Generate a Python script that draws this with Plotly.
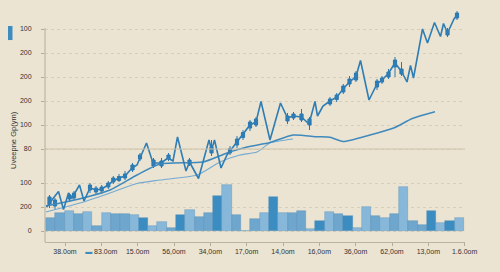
import plotly.graph_objects as go

# ---------------- data ----------------
# volume bars (weekly index)
vol_week = list(range(45))
vol_vals = [12.7, 18.3, 20.3, 17.3, 19, 5.3, 18, 17.3, 16.7, 16.3,
            13.3, 5.3, 9.3, 2.7, 16, 20.7, 14, 18.3, 35.3, 46,
            16, 0.5, 11.7, 17.7, 34.3, 17.7, 18, 20.3, 2, 10.3,
            18.7, 17.3, 15, 3, 24, 14.7, 13.3, 16.7, 44.3, 10.3,
            6, 20, 8.3, 10.3, 12.7]
vol_tone = ["m", "m", "l", "m", "l", "m", "l", "m", "m", "l",
            "d", "l", "l", "m", "d", "l", "m", "m", "d", "l",
            "m", "m", "m", "l", "d", "l", "m", "m", "l", "d",
            "l", "m", "d", "l", "l", "m", "l", "m", "l", "m",
            "m", "d", "l", "d", "l"]

# zig-zag price line (day, value)
zz_day = [1.5, 13.5, 18.5, 23.5, 27, 34.5, 39, 45, 51, 57, 63, 68, 74, 80, 87, 92,
          101.5, 108, 116, 123, 128, 132.5, 141, 144.5, 153.5, 164, 166.5, 169.5,
          176, 182, 185, 192, 198, 205, 211, 216, 225, 235.5, 242.5, 248, 256.5,
          264, 270, 272.5, 278, 285, 292, 298, 304.5, 311, 315.5, 324, 332, 337,
          343, 350, 356.5, 362, 365.5, 368.5, 377.5, 382.5, 389.5, 395.5, 398.5,
          402.5, 409, 412]
zz_val = [24, 39.5, 21.5, 38, 33, 46, 30, 43, 41, 42, 46, 50, 53, 55, 63, 66,
          88, 68, 68, 73, 70, 94, 60, 69, 52.5, 91, 81, 91,
          63, 76, 80, 89, 96, 106, 109, 129.5, 91, 128, 113, 115, 114,
          107, 129.5, 115, 125, 130, 134, 142, 149, 154.5, 170.5, 131, 147, 151,
          157, 168, 159.5, 149, 165.5, 153, 202, 188, 208.5, 194.5, 207.5,
          198, 212, 216]

# moving averages
ma1_day = [1, 38, 65, 92, 115, 158, 182, 202, 225, 248, 272, 285, 298, 325, 348, 368, 390]
ma1_val = [25, 33, 41, 56, 67, 69, 78, 84, 88.5, 96, 94.3, 93.7, 89.5, 96, 102.7, 112.7, 119.3]
ma2_day = [1, 35, 65, 92, 115, 152, 175, 195, 212, 225, 248]
ma2_val = [19, 28, 38, 47.5, 51, 56, 69, 76, 79, 88, 92]

# candles
c_day = [4.5, 10, 24.5, 29, 45, 51, 56.7, 63.3, 68.3, 74, 80, 87.5, 95, 108.5, 116.5,
         123.5, 144.5, 166.5, 185, 192, 198, 205, 211, 242.5, 248.5, 256.5, 264.5,
         285, 291.7, 298.3, 304.5, 311, 332, 337, 343.5, 350, 356.5, 402.5, 412]
c_open = [27, 31, 32, 33, 41, 43, 40, 44, 49, 50.5, 53, 61, 72, 71, 65,
          72, 71, 78, 78, 86, 93.5, 103, 106, 115, 113, 117, 112,
          127, 131.5, 139, 147, 151, 144, 149, 154, 164, 162, 196, 213]
c_close = [34, 25, 36, 38, 46, 39, 44, 48, 53, 54.5, 57, 66, 76, 65, 70,
           76, 67, 84, 82.5, 92, 98.5, 109, 112, 110, 117, 111, 106,
           132, 136, 145, 152, 158, 150, 153, 159, 171, 157, 200.5, 218]
c_high = [36, 33, 38, 40, 48, 45, 46, 50, 55, 57, 60, 68, 78, 73, 73,
          78, 73, 91, 85, 95, 101, 111, 114, 118, 119, 122, 114,
          134, 138, 147, 155, 160, 152, 155, 162, 174, 169, 203, 220]
c_low = [23, 22, 30, 31, 38, 37, 37, 42, 47, 49, 51, 59, 70, 63, 63,
         70, 65, 75, 76, 83, 91, 100, 104, 107, 111, 109, 101,
         125, 129, 137, 144, 149, 141, 147, 152, 154, 155, 194, 211]

# axis ticks
y_tickvals = [0, 24, 48, 82, 106, 130, 154, 178, 202]
y_ticktext = ["0", "200", "100", "80", "100", "200", "200", "200", "100"]
x_tickvals = [20, 56.3, 92.6, 129, 165.3, 201.6, 238, 274.3, 310.6, 347, 383.3, 419.6]
x_ticktext = ["38.0om", '<span style="color:#3d8cc0">▬</span> 83.0om', "15.0om",
              "56,0om", "34,0om", "17,0om", "14,0om", "16,0om",
              "36,0om", "62,0om", "13,0om", "1.6.0om"]
y_title = "Uveepne Gp(ym)"

# ---------------- figure ----------------
BG = "#ebe4d2"
tone_color = {"m": "#6ea6cd", "l": "#87b8da", "d": "#3b8dc1"}
FONT = "Liberation Sans, Arial, sans-serif"

fig = go.Figure()

fig.add_trace(go.Bar(
    x=vol_week, y=vol_vals, xaxis="x2", yaxis="y",
    marker=dict(color=[tone_color[t] for t in vol_tone],
                line=dict(color="rgba(70,130,180,0.55)", width=0.6)),
    width=1.0, hoverinfo="skip"))

fig.add_trace(go.Scatter(x=ma2_day, y=ma2_val, mode="lines",
                         line=dict(color="#74aad2", width=1.1, shape="spline", smoothing=0.6)))
fig.add_trace(go.Scatter(x=ma1_day, y=ma1_val, mode="lines",
                         line=dict(color="#3f89bd", width=1.5, shape="spline", smoothing=0.6)))
fig.add_trace(go.Scatter(x=zz_day, y=zz_val, mode="lines",
                         line=dict(color="#2f7db5", width=1.6)))

fig.add_trace(go.Candlestick(
    x=c_day, open=c_open, high=c_high, low=c_low, close=c_close,
    increasing=dict(line=dict(color="#2a78b2", width=1), fillcolor="#2f7fb7"),
    decreasing=dict(line=dict(color="#2a78b2", width=1), fillcolor="#2f7fb7"),
    whiskerwidth=0))

fig.update_layout(
    width=500, height=272,
    margin=dict(l=45, r=35, t=8, b=30),
    paper_bgcolor=BG, plot_bgcolor=BG,
    showlegend=False,
    boxgap=0.0,
    font=dict(family=FONT, size=7, color="#333333"),
    bargap=0,
    xaxis=dict(range=[0, 420], rangeslider=dict(visible=False),
               tickmode="array", tickvals=x_tickvals, ticktext=x_ticktext,
               showgrid=False, zeroline=False,
               showline=True, linecolor="#bdb49e", linewidth=1,
               ticks="outside", ticklen=3, tickcolor="#b5ac96",
               tickfont=dict(size=7, color="#333333")),
    xaxis2=dict(range=[-0.6076, 44.6076], overlaying="x", visible=False),
    yaxis=dict(range=[-11, 223], tickmode="array",
               tickvals=y_tickvals, ticktext=y_ticktext,
               showgrid=True, gridcolor="#d8cfb8", griddash="3px,3px", gridwidth=1,
               zeroline=False, showline=False,
               ticks="outside", ticklen=3, tickcolor="#b5ac96",
               ticklabelstandoff=8,
               tickfont=dict(size=7, color="#333333")),
    shapes=[
        dict(type="line", xref="paper", yref="y", x0=0, x1=1, y0=82, y1=82,
             line=dict(color="#cdc3aa", width=1)),
        dict(type="line", xref="paper", yref="y", x0=0, x1=0, y0=-11, y1=203,
             line=dict(color="#b5ac96", width=1)),
        dict(type="rect", xref="paper", yref="paper",
             x0=-0.0881, x1=-0.0774, y0=0.863, y1=0.923,
             fillcolor="#3d8cc0", line=dict(width=0)),
    ],
    annotations=[
        dict(text=y_title, xref="paper", yref="paper", x=-0.0738, y=0.436,
             xanchor="center", yanchor="middle", textangle=-90, showarrow=False,
             font=dict(size=7.5, color="#333333", family=FONT)),
    ],
)

fig.write_html("out.html")
